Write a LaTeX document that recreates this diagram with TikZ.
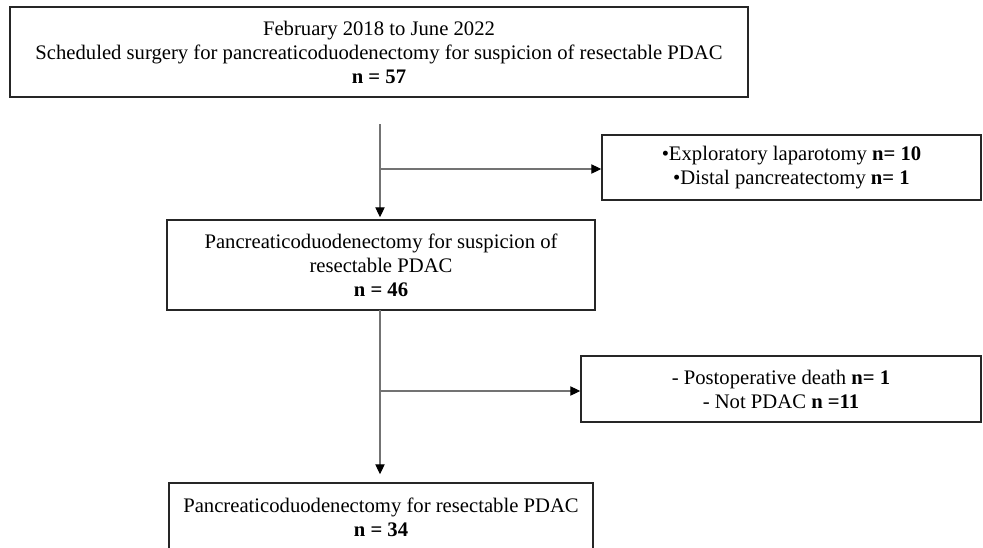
\documentclass[tikz,border=0pt]{standalone}
\usepackage{fontspec}
\setmainfont{Liberation Serif}
\usetikzlibrary{arrows.meta}
\begin{document}
\begin{tikzpicture}[x=0.75pt,y=-0.75pt,
  box/.style={draw=black!85, line width=1.1pt, inner sep=0pt, align=center,
    font=\fontsize{15.5}{18}\selectfont},
  conn/.style={draw=black!55, line width=0.8pt},
  arr/.style={conn, -{Triangle[length=7.5pt,width=7pt,color=black]}}]
\useasboundingbox (0,0) rectangle (983,547);
\clip (0,0) rectangle (983,547);

\node[box, minimum width=738*0.75pt, minimum height=90*0.75pt] (b1) at (379,52)
  {February 2018 to June 2022\\Scheduled surgery for pancreaticoduodenectomy for suspicion of resectable PDAC\\\textbf{n = 57}};
\node[box, minimum width=379*0.75pt, minimum height=65*0.75pt] (r1) at (791.5,167.5)
  {•Exploratory laparotomy \textbf{n= 10}\\•Distal pancreatectomy \textbf{n= 1}};
\node[box, minimum width=428*0.75pt, minimum height=90*0.75pt] (b2) at (381,265)
  {Pancreaticoduodenectomy for suspicion of\\resectable PDAC\\\textbf{n = 46}};
\node[box, minimum width=400*0.75pt, minimum height=66*0.75pt] (r2) at (781,389)
  {- Postoperative death \textbf{n= 1}\\- Not PDAC \textbf{n =11}};
\node[box, minimum width=424*0.75pt, minimum height=69*0.75pt] (b3) at (381,517.5)
  {Pancreaticoduodenectomy for resectable PDAC\\\textbf{n = 34}};

\coordinate (s1) at (380,124);
\coordinate (j1) at (380,169);
\coordinate (s2) at (380,310);
\coordinate (j2) at (380,391);

\draw[arr, shorten >=1.5pt] (s1) -- (s1 |- b2.north);
\draw[arr] (j1) -- (j1 -| r1.west);
\draw[arr, shorten >=6pt] (s2) -- (s2 |- b3.north);
\draw[arr] (j2) -- (j2 -| r2.west);
\end{tikzpicture}
\end{document}
